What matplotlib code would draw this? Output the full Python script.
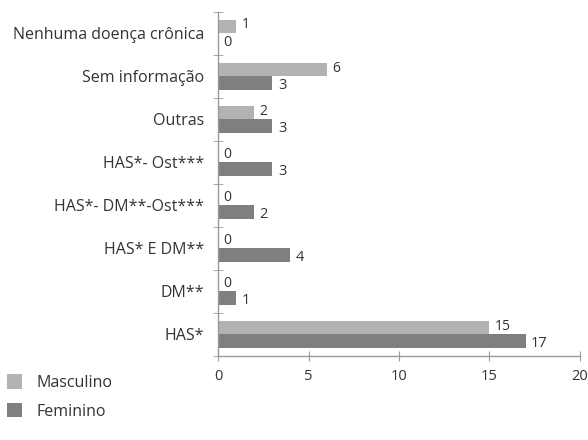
import matplotlib
matplotlib.use("Agg")
import matplotlib.pyplot as plt
import numpy as np

categories = ["HAS*", "DM**", "HAS* E DM**", "HAS*- DM**-Ost***", "HAS*- Ost***",
              "Outras", "Sem informação", "Nenhuma doença crônica"]
masculino = [15, 0, 0, 0, 0, 2, 6, 1]
feminino = [17, 1, 4, 2, 3, 3, 3, 0]
xticks = [0, 5, 10, 15, 20]

plt.rcParams['font.family'] = ['Open Sans', 'DejaVu Sans']
text_color = '#333333'
c_m = '#b2b2b2'
c_f = '#7f7f7f'
axis_c = '#9a9a9a'

fig = plt.figure(figsize=(5.88, 4.4), dpi=100)
ax = fig.add_axes([0.371, 0.191, 0.615, 0.782])

y = np.arange(len(categories))
h = 0.31
bm = ax.barh(y + h/2, masculino, height=h, color=c_m, label='Masculino')
bf = ax.barh(y - h/2, feminino, height=h, color=c_f, label='Feminino')

for yi, v in zip(y, masculino):
    ax.text(v + 0.3, yi + h/2 + 0.04, str(v), va='center', ha='left', fontsize=10, color=text_color)
for yi, v in zip(y, feminino):
    ax.text(v + 0.3, yi - h/2 - 0.06, str(v), va='center', ha='left', fontsize=10.5, color=text_color)

ax.set_xlim(0, 20)
ax.set_ylim(-0.5, len(categories) - 0.5)
ax.set_xticks(xticks)
ax.set_xticklabels([str(t) for t in xticks], fontsize=10.5, color=text_color)
ax.set_yticks(y)
ax.set_yticklabels(categories, fontsize=11.5, color=text_color)
ax.set_yticks(np.arange(-0.5, len(categories), 1), minor=True)
ax.tick_params(axis='y', which='major', length=0, pad=10)
ax.tick_params(axis='y', which='minor', length=7, direction='inout', color=axis_c)
ax.tick_params(axis='x', which='major', length=7, direction='inout', color=axis_c, pad=6)

for s in ['top', 'right']:
    ax.spines[s].set_visible(False)
for s in ['left', 'bottom']:
    ax.spines[s].set_color(axis_c)
    ax.spines[s].set_linewidth(1.0)

fig.legend(handles=[bm, bf], labels=['Masculino', 'Feminino'], loc='upper left',
           bbox_to_anchor=(-0.012, 0.182), frameon=False, fontsize=11.5,
           handlelength=0.95, handleheight=1.0, handletextpad=0.9, labelspacing=0.75,
           labelcolor=text_color)

fig.savefig('out.png', dpi=100)
